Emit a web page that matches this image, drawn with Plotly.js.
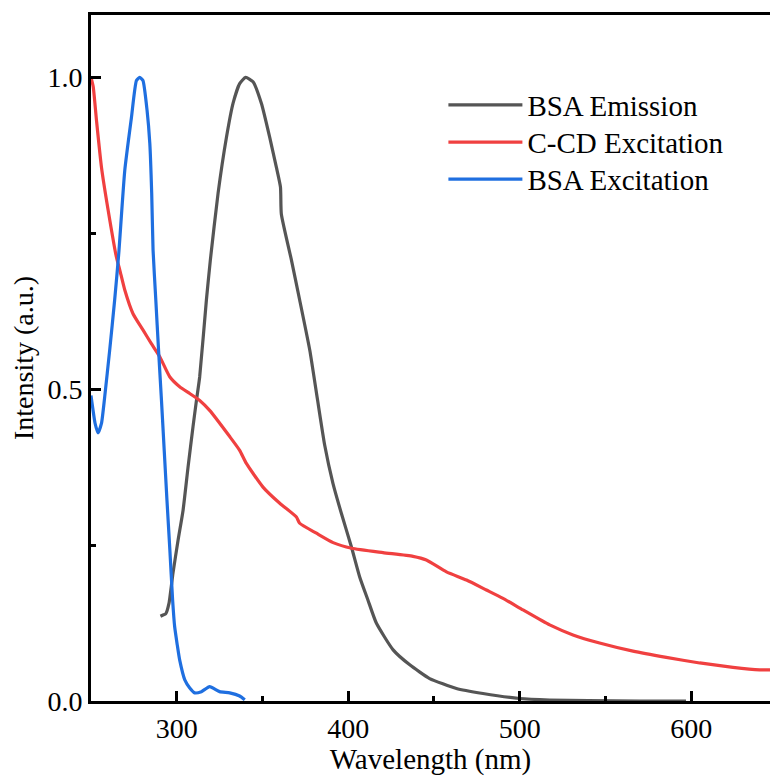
<!DOCTYPE html>
<html>
<head>
<meta charset="utf-8">
<script src="https://cdn.plot.ly/plotly-3.0.1.min.js"></script>
<style>
  html, body { margin: 0; padding: 0; background: #ffffff; }
  #chart { width: 770px; height: 776px; }
</style>
</head>
<body>
<div id="chart"></div>
<script>
// ---- Data ----
const seriesNames = ["BSA Emission", "C-CD Excitation", "BSA Excitation"];

const bsaEmWl = [290.5, 292, 293.6, 295.5, 297.8, 300.8, 303.7, 306.6, 309.5, 311.5, 313.4, 317.3, 319.6, 324.1, 329, 332.8, 336.7, 340.2, 344.5, 349.4, 354.2, 358.1, 360.5, 361, 366.9, 371.7, 377.6, 382, 386.3, 391.1, 396, 401.9, 406.7, 411.5, 416.4, 426.2, 435.9, 447.5, 463.1, 478.6, 500, 517.5, 540, 570, 597];
const bsaEmI  = [0.136, 0.138, 0.140, 0.157, 0.205, 0.258, 0.306, 0.375, 0.440, 0.482, 0.520, 0.643, 0.707, 0.814, 0.904, 0.958, 0.990, 1.0, 0.993, 0.958, 0.904, 0.856, 0.824, 0.781, 0.707, 0.643, 0.5625, 0.485, 0.410, 0.349, 0.301, 0.247, 0.199, 0.162, 0.125, 0.082, 0.058, 0.036, 0.020, 0.012, 0.004, 0.0016, 0.0005, 0.0, 0.0];

const ccdExWl = [250, 251.3, 253.2, 256.1, 260, 264.8, 266.8, 269.7, 274.5, 280.3, 285.2, 290.1, 295.9, 301.7, 307.6, 313.4, 319.2, 330.9, 336.7, 340.6, 350.3, 360.1, 369.8, 371.7, 381.5, 391.2, 402, 420.3, 437.8, 445.6, 457.3, 469, 480.6, 490, 502, 517.5, 531.1, 546.6, 566.1, 585.5, 605, 624.4, 640, 646];
const ccdExI  = [1.0, 0.985, 0.931, 0.856, 0.787, 0.712, 0.691, 0.659, 0.621, 0.595, 0.573, 0.552, 0.520, 0.504, 0.493, 0.482, 0.466, 0.424, 0.402, 0.381, 0.343, 0.317, 0.295, 0.285, 0.269, 0.254, 0.245, 0.238, 0.232, 0.226, 0.207, 0.194, 0.178, 0.165, 0.146, 0.122, 0.106, 0.093, 0.080, 0.070, 0.061, 0.054, 0.050, 0.050];

const bsaExWl = [250, 252.4, 254.1, 256.1, 258, 260.9, 263.8, 266.2, 269.7, 273.6, 276.5, 278.4, 280.3, 282.7, 284.3, 285.4, 286.2, 287.8, 289.4, 291.1, 292.7, 294.3, 296.0, 297.6, 298.8, 300.3, 301.7, 304.7, 307.6, 310.5, 314.4, 319.2, 325, 330.9, 336.7, 339.7];
const bsaExI  = [0.490, 0.445, 0.430, 0.445, 0.488, 0.5625, 0.643, 0.718, 0.851, 0.936, 0.995, 1.0, 0.995, 0.947, 0.894, 0.814, 0.723, 0.643, 0.5625, 0.482, 0.402, 0.322, 0.242, 0.162, 0.119, 0.090, 0.066, 0.034, 0.021, 0.013, 0.015, 0.023, 0.015, 0.013, 0.008, 0.002];

const xTickVals = [300, 400, 500, 600];
const xTickText = ["300", "400", "500", "600"];
const yTickVals = [0, 0.5, 1.0];
const yTickText = ["0.0", "0.5", "1.0"];

const colors = ["#555555", "#f04040", "#1f6fe0"];

// ---- Chart ----
const fontFamily = "Liberation Serif";
const legendIds = ["legend", "legend2", "legend3"];
const legendY = [0.8688, 0.8145, 0.7605];

const traces = [
  { x: bsaEmWl, y: bsaEmI, name: seriesNames[0] },
  { x: ccdExWl, y: ccdExI, name: seriesNames[1] },
  { x: bsaExWl, y: bsaExI, name: seriesNames[2] }
].map((t, i) => Object.assign(t, {
  type: "scatter", mode: "lines",
  line: { color: colors[i], width: 3.2, shape: "spline", smoothing: 0.5 },
  legend: legendIds[i]
}));

function legendBox(y) {
  return {
    x: 0.519, y: y, xanchor: "left", yanchor: "middle",
    bgcolor: "rgba(0,0,0,0)", borderwidth: 0,
    font: { family: fontFamily, size: 29, color: "#000000" },
    itemwidth: 74
  };
}

const layout = {
  width: 770, height: 776,
  margin: { l: 91, r: 0, t: 15, b: 75, pad: 0 },
  paper_bgcolor: "#ffffff", plot_bgcolor: "#ffffff",
  font: { family: fontFamily, size: 28, color: "#000000" },
  showlegend: true,
  legend: legendBox(legendY[0]),
  legend2: legendBox(legendY[1]),
  legend3: legendBox(legendY[2]),
  xaxis: {
    range: [250, 646], showgrid: false, zeroline: false,
    showline: true, linecolor: "#000000", linewidth: 3, mirror: true,
    ticks: "inside", ticklen: 10, tickwidth: 3, tickcolor: "#000000",
    tickvals: xTickVals, ticktext: xTickText,
    tickfont: { family: fontFamily, size: 28, color: "#000000" },
    minor: { ticks: "inside", dtick: 50, tick0: 250, ticklen: 5, tickwidth: 3, tickcolor: "#000000", showgrid: false },
    title: { text: "Wavelength (nm)", font: { family: fontFamily, size: 29, color: "#000000" }, standoff: 4 }
  },
  yaxis: {
    range: [0, 1.1], showgrid: false, zeroline: false,
    showline: true, linecolor: "#000000", linewidth: 3, mirror: false,
    ticks: "inside", ticklen: 10, tickwidth: 3, tickcolor: "#000000",
    tickvals: yTickVals, ticktext: yTickText,
    tickfont: { family: fontFamily, size: 28, color: "#000000" },
    minor: { ticks: "inside", dtick: 0.25, tick0: 0, ticklen: 5, tickwidth: 3, tickcolor: "#000000", showgrid: false },
    title: { text: "Intensity (a.u.)", font: { family: fontFamily, size: 28, color: "#000000" }, standoff: 6 }
  }
};

Plotly.newPlot("chart", traces, layout, { displayModeBar: false, staticPlot: true });
</script>
</body>
</html>
